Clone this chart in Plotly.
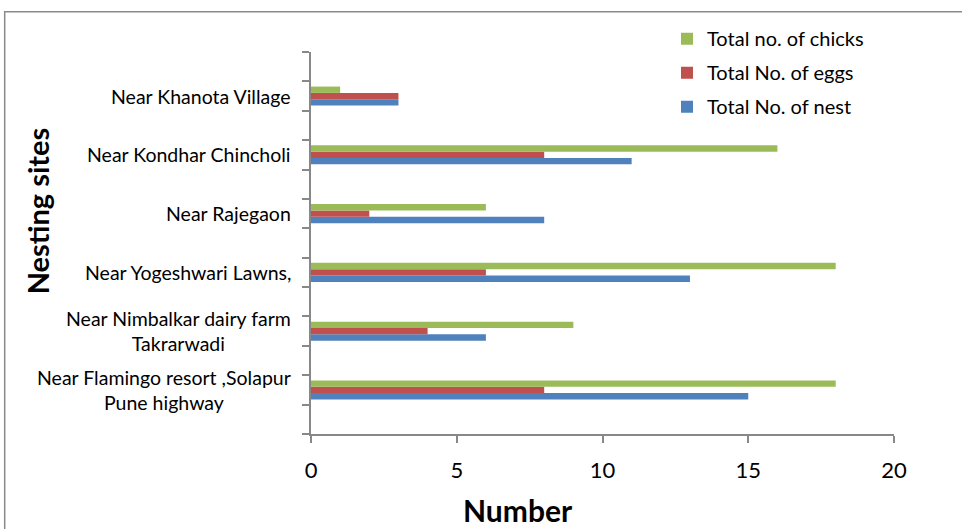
import plotly.graph_objects as go

# ---- data ----
sites = [
    "Near Flamingo resort ,Solapur<br>Pune highway",
    "Near Nimbalkar dairy farm<br>Takrarwadi",
    "Near Yogeshwari Lawns,",
    "Near Rajegaon",
    "Near Kondhar Chincholi",
    "Near Khanota Village",
]
nests = [15, 6, 13, 8, 11, 3]
eggs = [8, 4, 6, 2, 8, 3]
chicks = [18, 9, 18, 6, 16, 1]
x_ticks = [0, 5, 10, 15, 20]

series_names = ["Total No. of nest", "Total No. of eggs", "Total no. of chicks"]
series_values = [nests, eggs, chicks]
series_colors = ["#4F81BD", "#C0504D", "#9BBB59"]
legend_ranks = [3, 2, 1]

# each site occupies every other slot of the category axis (blank rows between)
pos = [2 * i + 1 for i in range(len(sites))]
n_slots = 2 * len(sites) + 1
boundaries = [k - 0.5 for k in range(n_slots + 1)]

FONT = "Lato"
AXIS_GREY = "#888888"

fig = go.Figure()
for i, (name, vals, col, rk) in enumerate(zip(series_names, series_values, series_colors, legend_ranks)):
    fig.add_trace(go.Bar(
        x=vals, y=pos, orientation="h", name=name,
        marker=dict(color=col, line=dict(width=0)),
        legendgroup=f"g{i}", legendrank=rk,
    ))

annotations = []
for p, s in zip(pos, sites):
    annotations.append(dict(
        x=0, xref="paper", y=p, yref="y", text=s, showarrow=False,
        xanchor="right", yanchor="middle", align="center", xshift=-18,
        font=dict(family=FONT, size=19.5, color="black"),
    ))
annotations.append(dict(
    x=-0.469, xref="paper", y=0.5845, yref="paper", text="<b>Nesting sites</b>",
    textangle=-90, showarrow=False, xanchor="center", yanchor="middle",
    font=dict(family=FONT, size=29, color="black"),
))
annotations.append(dict(
    x=0.355, xref="paper", y=-0.199, yref="paper", text="<b>Number</b>",
    showarrow=False, xanchor="center", yanchor="middle",
    font=dict(family=FONT, size=30, color="black"),
))

fig.update_layout(
    width=962, height=529,
    margin=dict(l=311, r=68, t=52, b=95, autoexpand=False),
    paper_bgcolor="white", plot_bgcolor="white",
    barmode="group", bargap=0.676, bargroupgap=0,
    font=dict(family=FONT, color="black"),
    showlegend=True,
    legend=dict(
        x=(667 - 311) / 583, xanchor="left",
        y=1.086, yanchor="top",
        traceorder="grouped", tracegroupgap=5,
        font=dict(family=FONT, size=20, color="black"),
        bgcolor="rgba(0,0,0,0)",
    ),
    xaxis=dict(
        range=[0, 20], tickmode="array", tickvals=x_ticks,
        ticks="outside", ticklen=7, tickwidth=2, tickcolor=AXIS_GREY,
        showline=True, linecolor=AXIS_GREY, linewidth=2,
        showgrid=False, zeroline=False,
        tickfont=dict(family=FONT, size=22, color="black"),
        ticklabelstandoff=9,
    ),
    yaxis=dict(
        range=[-0.5, n_slots - 0.5], tickmode="array", tickvals=boundaries,
        ticks="outside", ticklen=7, tickwidth=2, tickcolor=AXIS_GREY,
        showticklabels=False,
        showline=True, linecolor=AXIS_GREY, linewidth=2,
        showgrid=False, zeroline=False,
    ),
    annotations=annotations,
    shapes=[dict(
        type="rect", xref="paper", yref="paper",
        x0=(4.7 - 311) / 583, x1=1.5, y0=-1.0, y1=(434 - 12.3) / 381.5,
        line=dict(color="#8a8a8a", width=1.5), fillcolor="rgba(0,0,0,0)",
        layer="below",
    )],
)

fig.write_html("out.html")
